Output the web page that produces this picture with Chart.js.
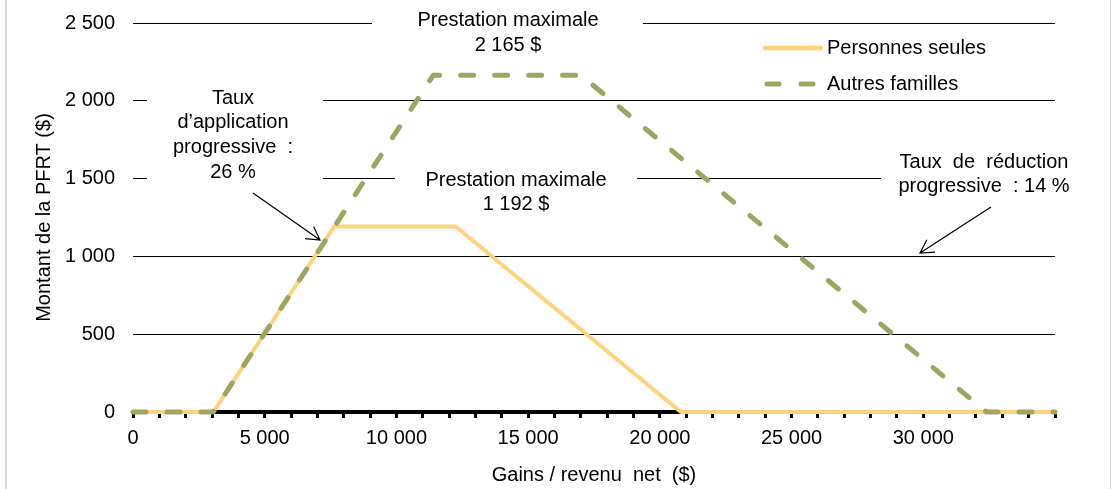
<!DOCTYPE html>
<html>
<head>
<meta charset="utf-8">
<script src="https://cdn.jsdelivr.net/npm/chart.js@4/dist/chart.umd.min.js"></script>
<style>
  html, body { margin: 0; padding: 0; background: #fff; }
  canvas { display: block; }
</style>
</head>
<body>
<canvas id="pfrt" width="1112" height="489"></canvas>
<script>
// Kinks of the benefit schedule: net income ($) and PFRT amount ($)
const seulesRevenu   = [0, 3050, 7640, 12250, 20800, 35000];
const seulesMontant  = [0, 0, 1192, 1192, 0, 0];
const famillesRevenu = [0, 3050, 11400, 17000, 32400, 35000];
const famillesMontant = [0, 0, 2165, 2165, 0, 0];
const seriesNames = ['Personnes seules', 'Autres familles'];
const xMax = 35000;
const xLabelStep = 5000;
const yMax = 2500;
const yStep = 500;

const FONT = '"Liberation Sans", Arial, sans-serif';
const ORANGE = '#FFD27C';
const OLIVE = '#9DA561';

// thousands separated by a space, e.g. 2 500
const fmt = v => String(v).replace(/\B(?=(\d{3})+(?!\d))/g, ' ');

// Text notes drawn over the plot; "box" masks the grid lines behind each one
const notes = [
  { lines: ['Prestation maximale', '2 165 $'], x: 508, y: 20, gap: 25, box: [372, 4, 643, 58] },
  { lines: ['Taux', 'd\u2019application', 'progressive  :', '26 %'], x: 233, y: 98, gap: 24.7, box: [147, 84, 323, 186] },
  { lines: ['Prestation maximale', '1 192 $'], x: 516, y: 180, gap: 24, box: [395, 166, 637, 216] },
  { lines: ['Taux  de  réduction', 'progressive  : 14 %'], x: 984, y: 162, gap: 24, box: [881, 148, 1095, 198] }
];
const arrows = [
  { from: [253, 193], to: [320, 240] },
  { from: [991, 207], to: [920, 253] }
];

const overlay = {
  id: 'overlay',
  beforeDatasetsDraw(chart) {
    const ctx = chart.ctx;
    ctx.save();
    ctx.fillStyle = '#fff';
    notes.forEach(n => {
      const [x1, y1, x2, y2] = n.box;
      ctx.fillRect(x1, y1, x2 - x1, y2 - y1);
    });
    ctx.restore();
  },
  afterDraw(chart) {
    const ctx = chart.ctx;
    ctx.save();
    ctx.font = '20px ' + FONT;
    ctx.fillStyle = '#000';
    ctx.textBaseline = 'middle';
    ctx.textAlign = 'center';
    notes.forEach(n => {
      n.lines.forEach((t, i) => ctx.fillText(t, n.x, n.y + i * n.gap));
    });

    // arrows with open heads
    ctx.strokeStyle = '#000';
    ctx.lineWidth = 1.2;
    arrows.forEach(a => {
      const [x0, y0] = a.from, [x1, y1] = a.to;
      const ang = Math.atan2(y1 - y0, x1 - x0);
      ctx.beginPath();
      ctx.moveTo(x0, y0);
      ctx.lineTo(x1, y1);
      const L = 15, w = 0.52;
      ctx.moveTo(x1 - L * Math.cos(ang - w), y1 - L * Math.sin(ang - w));
      ctx.lineTo(x1, y1);
      ctx.lineTo(x1 - L * Math.cos(ang + w), y1 - L * Math.sin(ang + w));
      ctx.stroke();
    });

    // legend
    const lx = 764, ty = [48, 84];
    ctx.lineCap = 'round';
    ctx.strokeStyle = ORANGE;
    ctx.lineWidth = 4.5;
    ctx.beginPath(); ctx.moveTo(lx + 1, ty[0]); ctx.lineTo(lx + 57, ty[0]); ctx.stroke();
    ctx.strokeStyle = OLIVE;
    ctx.lineWidth = 5;
    ctx.beginPath(); ctx.moveTo(lx + 3, ty[1]); ctx.lineTo(lx + 15, ty[1]);
    ctx.moveTo(lx + 37, ty[1]); ctx.lineTo(lx + 49, ty[1]); ctx.stroke();
    ctx.textAlign = 'left';
    ctx.fillStyle = '#000';
    seriesNames.forEach((s, i) => ctx.fillText(s, 827, ty[i]));

    // frame edges
    ctx.fillStyle = '#D9D9D9';
    ctx.fillRect(5, 0, 2, 489);
    ctx.fillRect(1110, 0, 1, 489);
    ctx.restore();
  }
};

Chart.defaults.font.family = FONT;
Chart.defaults.font.size = 20;
Chart.defaults.color = '#000';

new Chart(document.getElementById('pfrt'), {
  type: 'line',
  data: {
    datasets: [
      {
        label: seriesNames[0],
        data: seulesRevenu.map((x, i) => ({ x, y: seulesMontant[i] })),
        borderColor: ORANGE,
        borderWidth: 4,
        pointRadius: 0,
        borderJoinStyle: 'round',
        tension: 0,
        order: 1,
        clip: false
      },
      {
        label: seriesNames[1],
        data: famillesRevenu.map((x, i) => ({ x, y: famillesMontant[i] })),
        borderColor: OLIVE,
        borderWidth: 5,
        borderDash: [13, 21],
        borderCapStyle: 'round',
        borderJoinStyle: 'round',
        pointRadius: 0,
        tension: 0,
        order: 0,
        clip: false
      }
    ]
  },
  options: {
    responsive: false,
    animation: false,
    layout: { padding: { top: 23, right: 57, left: 0, bottom: 0 } },
    plugins: { legend: { display: false }, tooltip: { enabled: false } },
    scales: {
      x: {
        type: 'linear',
        min: 0,
        max: xMax,
        afterFit: s => { s.height = 77; s.paddingLeft = 0; s.paddingRight = 0; },
        grid: { drawOnChartArea: false, drawTicks: true, tickLength: 6, tickWidth: 3, tickColor: '#000' },
        border: { display: true, color: '#000', width: 4 },
        ticks: {
          stepSize: 1000,
          autoSkip: false,
          maxRotation: 0,
          padding: 8,
          callback: v => (v % xLabelStep === 0 && v < xMax) ? fmt(v) : ''
        },
        title: { display: true, text: 'Gains / revenu  net  ($)', padding: { top: 0, bottom: 2 } }
      },
      y: {
        min: 0,
        max: yMax,
        afterFit: s => { s.width = 133; s.paddingTop = 0; s.paddingBottom = 0; },
        grid: { color: '#000', lineWidth: 1, drawTicks: false },
        border: { display: false },
        ticks: { stepSize: yStep, padding: 18, callback: v => fmt(v) },
        title: { display: true, text: 'Montant de la PFRT ($)', padding: { top: 32, bottom: 0 } }
      }
    }
  },
  plugins: [overlay]
});
</script>
</body>
</html>
